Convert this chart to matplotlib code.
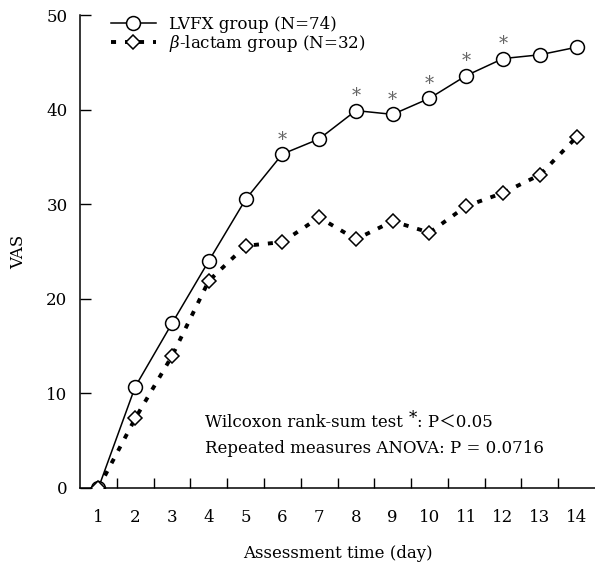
import matplotlib
matplotlib.use('Agg')
import matplotlib.pyplot as plt
import numpy as np

plt.rcParams['font.family'] = ['DejaVu Serif', 'Noto Sans CJK JP']
plt.rcParams['mathtext.fontset'] = 'dejavuserif'

# VAS by assessment day
days = np.arange(1, 15)
lvfx = [0, 10.7, 17.4, 24.0, 30.5, 35.3, 36.9, 39.9, 39.5, 41.2, 43.6, 45.4, 45.8, 46.6]
blac = [0, 7.35, 13.95, 21.9, 25.6, 26.0, 28.6, 26.3, 28.2, 27.0, 29.8, 31.2, 33.1, 37.1]
sig_days = [6, 8, 9, 10, 11, 12]
yticks = [0, 10, 20, 30, 40, 50]

fig = plt.figure(figsize=(5.95, 5.64), dpi=100)
ax = fig.add_axes([0.1345, 0.1348, 0.8655, 0.8385])

ax.plot(days, lvfx, color='black', lw=1.1, marker='o', ms=10,
        mfc='white', mec='black', mew=1.1, label='LVFX group (N=74)', zorder=3)
ax.plot(days, blac, color='black', lw=2.8, ls=(0, (1.3, 2.3)), marker='D', ms=7.5,
        mfc='white', mec='black', mew=1.1,
        label=r'$\beta$-lactam group (N=32)', zorder=4)

# significance marks
for d in sig_days:
    ax.annotate('*', xy=(d, lvfx[d - 1]), xytext=(0, 4), textcoords='offset points',
                ha='center', va='bottom', fontsize=13, color='#666666')

ax.set_xlim(0.5, 14.5)
ax.set_ylim(0, 50)
ax.set_xticks(np.arange(1.5, 14.5, 1))
ax.set_xticklabels([])
ax.set_xticks(days, minor=True)
ax.set_xticklabels([str(d) for d in days], minor=True)
ax.tick_params(axis='x', which='minor', length=0, pad=15, labelsize=12)
ax.tick_params(axis='x', which='major', direction='in', length=7, width=1)
ax.set_yticks(yticks)
ax.tick_params(axis='y', direction='in', length=8, width=1, pad=9, labelsize=12)
for s in ['top', 'right']:
    ax.spines[s].set_visible(False)
for s in ['left', 'bottom']:
    ax.spines[s].set_linewidth(1.1)

ax.set_xlabel('Assessment time (day)', fontsize=12, labelpad=14)
ax.set_ylabel('VAS', fontsize=12, labelpad=14)

ax.legend(loc='upper left', frameon=False, fontsize=12, handlelength=2.7,
          borderaxespad=0.2, labelspacing=0.0, bbox_to_anchor=(0.04, 1.02))

t1 = ax.text(3.9, 6.0, 'Wilcoxon rank-sum test', fontsize=12, va='bottom')
ax.annotate('*', xy=(1, 0.25), xycoords=t1, xytext=(4, 0),
            textcoords='offset points', fontsize=12, va='bottom')
ax.annotate(': P＜0.05', xy=(1, 0), xycoords=t1, xytext=(10, 0),
            textcoords='offset points', fontsize=12, va='bottom')
ax.text(3.9, 3.3, 'Repeated measures ANOVA: P = 0.0716', fontsize=12, va='bottom')

fig.savefig('out.png', dpi=100)
